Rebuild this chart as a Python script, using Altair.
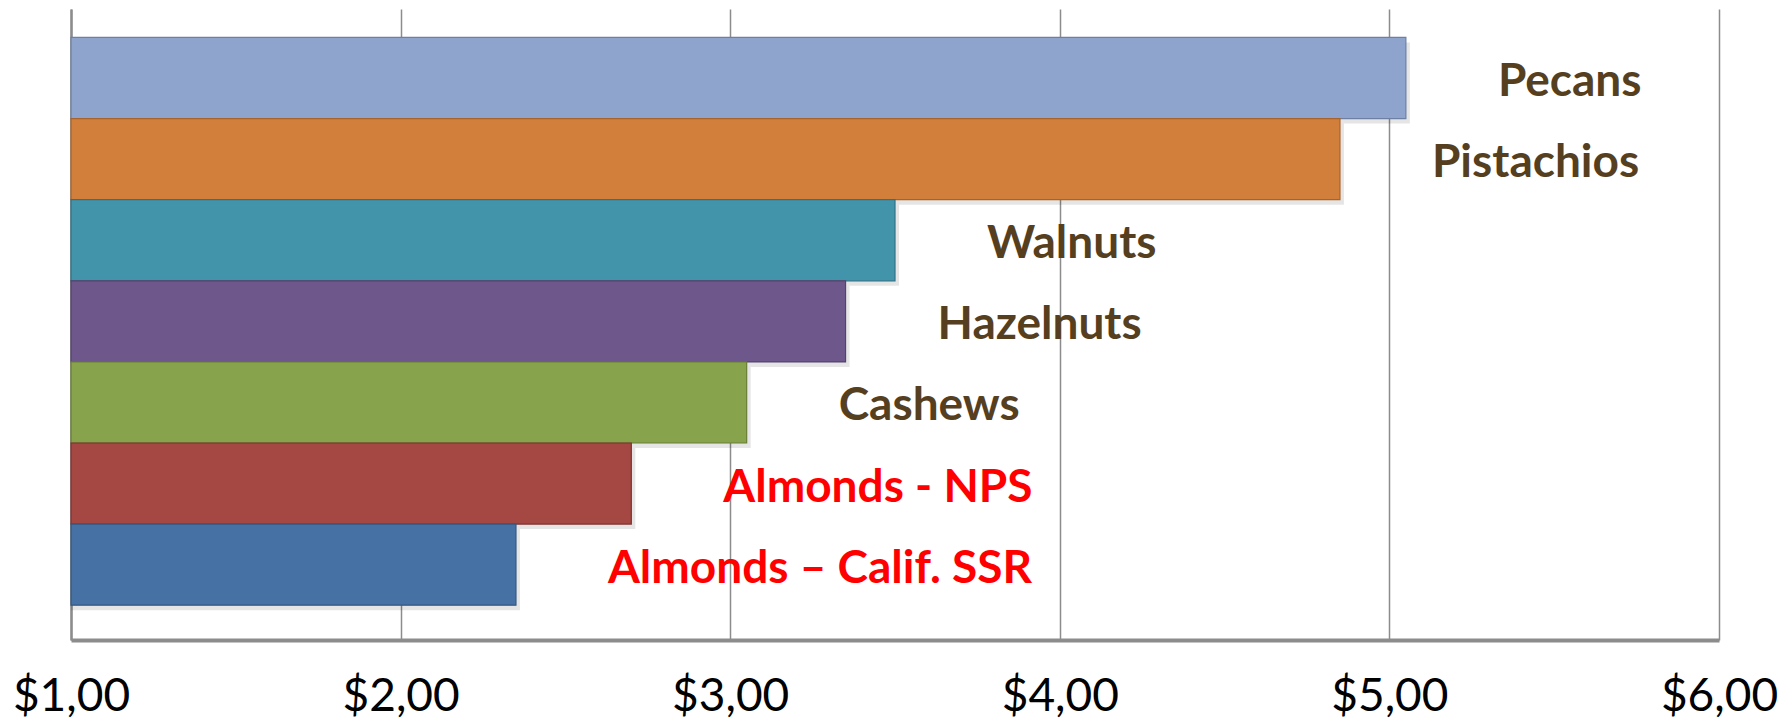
import altair as alt
import pandas as pd

# ---- data ----
nuts = ["Pecans", "Pistachios", "Walnuts", "Hazelnuts", "Cashews",
        "Almonds - NPS", "Almonds – Calif. SSR"]
prices = [5.05, 4.85, 3.50, 3.35, 3.05, 2.70, 2.35]
x_ticks = [1, 2, 3, 4, 5, 6]

# ---- styles ----
bar_colors = ["#8FA4CC", "#D37F3C", "#4294AA", "#6E588B", "#87A34C", "#A54742", "#4571A5"]
bar_strokes = ["#6D80A4", "#A8622B", "#2F7286", "#54426C", "#687E36", "#7F3330", "#34577F"]
grid_grey = "#8C8C8C"

df = pd.DataFrame({"nut": nuts, "price": prices})

x_enc = alt.X(
    "price:Q",
    scale=alt.Scale(domain=[1, 6], zero=False, nice=False),
    axis=alt.Axis(
        values=x_ticks,
        labelExpr="'$' + replace(format(datum.value, '.2f'), '.', ',')",
        grid=True, gridColor=grid_grey, gridWidth=1.5, gridOpacity=1,
        domainColor=grid_grey, domainWidth=4,
        ticks=False, tickSize=0,
        labelPadding=70, labelFont="Lato", labelFontSize=46,
        labelColor="#000000", labelOverlap=False, labelFlush=False,
        labelBaseline="alphabetic",
        title=None,
    ),
)
y_enc = alt.Y(
    "nut:N",
    sort=nuts,
    scale=alt.Scale(paddingInner=0, paddingOuter=0.39, align=0.45),
    axis=alt.Axis(labels=False, ticks=False, title=None, grid=False,
                  domainColor=grid_grey, domainWidth=2.5),
)

base = alt.Chart(df)

shadow = base.mark_bar(color="#000000", opacity=0.10, xOffset=4, yOffset=5).encode(
    x=x_enc, x2=alt.datum(1), y=y_enc
)

bars = base.mark_bar(strokeWidth=1.2).encode(
    x=x_enc,
    x2=alt.datum(1),
    y=y_enc,
    color=alt.Color("nut:N", scale=alt.Scale(domain=nuts, range=bar_colors), legend=None),
    stroke=alt.Stroke("nut:N", scale=alt.Scale(domain=nuts, range=bar_strokes), legend=None),
)

labels = base.mark_text(
    align="left", baseline="middle", dx=92, dy=4,
    font="Lato", fontSize=46, fontWeight="bold",
).encode(
    x=alt.X("price:Q"),
    y=alt.Y("nut:N", sort=nuts),
    text="nut:N",
    color=alt.condition("indexof(datum.nut, 'Almonds') === 0",
                        alt.value("#FF0000"), alt.value("#553F1F")),
)

chart = (
    alt.layer(shadow, bars, labels)
    .properties(
        width=1648, height=631,
        autosize=alt.AutoSizeParams(type="none"),
        padding={"left": 63, "top": 1, "right": 60, "bottom": 79},
        background="white",
    )
    .configure_view(stroke=None)
)

chart.save("out.html", embed_options={"renderer": "svg", "actions": False})
